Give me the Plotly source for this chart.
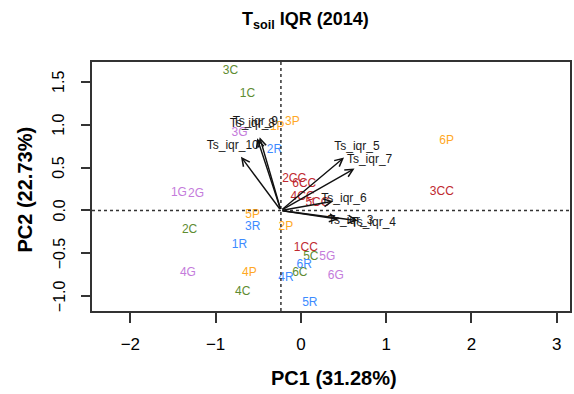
import plotly.graph_objects as go

# ---- data ----
sample_labels = ["1C", "2C", "3C", "4C", "5C", "6C",
                 "1P", "2P", "3P", "4P", "5P", "6P",
                 "1G", "2G", "3G", "4G", "5G", "6G",
                 "1R", "2R", "3R", "4R", "5R", "6R",
                 "1CC", "2CC", "3CC", "4CC", "5CC", "6CC"]
pc1_scores = [-0.627, -1.305, -0.826, -0.682, 0.117, -0.012,
              -0.277, -0.175, -0.100, -0.604, -0.565, 1.710,
              -1.430, -1.230, -0.720, -1.325, 0.311, 0.409,
              -0.720, -0.310, -0.565, -0.175, 0.105, 0.039,
              0.058, -0.078, 1.654, 0.020, 0.194, 0.040]
pc2_scores = [1.359, -0.228, 1.628, -0.955, -0.546, -0.733,
              0.978, -0.189, 1.036, -0.733, -0.053, 0.815,
              0.204, 0.193, 0.908, -0.733, -0.546, -0.764,
              -0.403, 0.706, -0.189, -0.791, -1.076, -0.636,
              -0.441, 0.368, 0.212, 0.161, 0.084, 0.309]
sample_group = ["C"] * 6 + ["P"] * 6 + ["G"] * 6 + ["R"] * 6 + ["CC"] * 6

variable_labels = ["Ts_iqr_3", "Ts_iqr_4", "Ts_iqr_5", "Ts_iqr_6",
                   "Ts_iqr_7", "Ts_iqr_8", "Ts_iqr_9", "Ts_iqr_10"]
loading_pc1 = [0.818, 1.084, 0.892, 0.740, 1.040, -0.335, -0.300, -0.565]
loading_pc2 = [-0.123, -0.142, 0.745, 0.131, 0.589, 1.015, 1.030, 0.756]
arrow_origin = (-0.234, 0.0)
arrow_scale = 0.83

x_ticks = [-2, -1, 0, 1, 2, 3]
y_ticks = [-1.0, -0.5, 0.0, 0.5, 1.0, 1.5]


def fmt(t, dec):
    s = f"{abs(t):.{dec}f}"
    return ("\u2212" + s) if t < 0 else s


# ---- styles ----
group_colors = {"C": "#5E8C31", "P": "#FFA824", "G": "#C47BDB",
                "R": "#3D8BFF", "CC": "#C0282F"}
FONT = "Liberation Sans, Arial, sans-serif"

fig = go.Figure()

# sample labels
fig.add_trace(go.Scatter(
    x=pc1_scores, y=pc2_scores, mode="text", text=sample_labels,
    textposition="middle center",
    textfont=dict(family=FONT, size=12,
                  color=[group_colors[g] for g in sample_group]),
    hoverinfo="skip", showlegend=False))

# variable labels
ox, oy = arrow_origin
fig.add_trace(go.Scatter(
    x=[ox + v for v in loading_pc1], y=[oy + v for v in loading_pc2],
    mode="text", text=variable_labels, textposition="middle center",
    textfont=dict(family=FONT, size=12, color="#1a1a1a"),
    hoverinfo="skip", showlegend=False))

annotations = []
for lx, ly in zip(loading_pc1, loading_pc2):
    annotations.append(dict(
        x=ox + arrow_scale * lx, y=oy + arrow_scale * ly,
        ax=ox, ay=oy, xref="x", yref="y", axref="x", ayref="y",
        text="", showarrow=True, arrowhead=5, arrowsize=1.1,
        arrowwidth=1.4, arrowcolor="#111111"))

# rotated y tick labels (placed on the y scale)
for t in y_ticks:
    annotations.append(dict(
        text=fmt(t, 1), x=0, xref="paper", y=t, yref="y", xshift=-33,
        xanchor="center", yanchor="middle", textangle=-90, showarrow=False,
        font=dict(family=FONT, size=16, color="black")))

# title and axis titles
annotations.append(dict(
    text="<b>T<sub>soil</sub> IQR (2014)</b>", x=0.447, y=1, xref="paper",
    yref="paper", yshift=42, xanchor="center", yanchor="middle",
    showarrow=False, font=dict(family=FONT, size=18, color="black")))
annotations.append(dict(
    text="<b>PC1 (31.28%)</b>", x=0.5, y=0, xref="paper", yref="paper",
    xshift=3, yshift=-67, xanchor="center", yanchor="middle",
    showarrow=False, font=dict(family=FONT, size=20, color="black")))
annotations.append(dict(
    text="<b>PC2 (22.73%)</b>", x=0, y=0.5, xref="paper", yref="paper",
    xshift=-68, yshift=-3, xanchor="center", yanchor="middle",
    textangle=-90, showarrow=False,
    font=dict(family=FONT, size=20, color="black")))

shapes = [
    dict(type="line", xref="x", yref="paper", x0=ox, x1=ox, y0=0, y1=1,
         line=dict(color="#333333", width=1.5, dash="dot")),
    dict(type="line", xref="paper", yref="y", x0=0, x1=1, y0=oy, y1=oy,
         line=dict(color="#333333", width=1.5, dash="dot")),
]

fig.update_layout(
    width=574, height=394,
    margin=dict(l=92, r=2, t=62, b=83),
    paper_bgcolor="white", plot_bgcolor="white",
    font=dict(family=FONT, color="black"),
    annotations=annotations, shapes=shapes,
    xaxis=dict(range=[-2.45, 3.157], tickvals=x_ticks,
               ticktext=[fmt(t, 0) for t in x_ticks],
               showgrid=False, zeroline=False, showline=True, mirror=True,
               linecolor="#333333", linewidth=1.5, ticks="outside",
               ticklen=10, tickwidth=1.5, tickcolor="#333333",
               ticklabelstandoff=7,
               tickfont=dict(family=FONT, size=17, color="black")),
    yaxis=dict(range=[-1.173, 1.733], tickvals=y_ticks,
               showticklabels=False,
               showgrid=False, zeroline=False, showline=True, mirror=True,
               linecolor="#333333", linewidth=1.5, ticks="outside",
               ticklen=9, tickwidth=1.5, tickcolor="#333333"),
)

fig.write_html("out.html")
